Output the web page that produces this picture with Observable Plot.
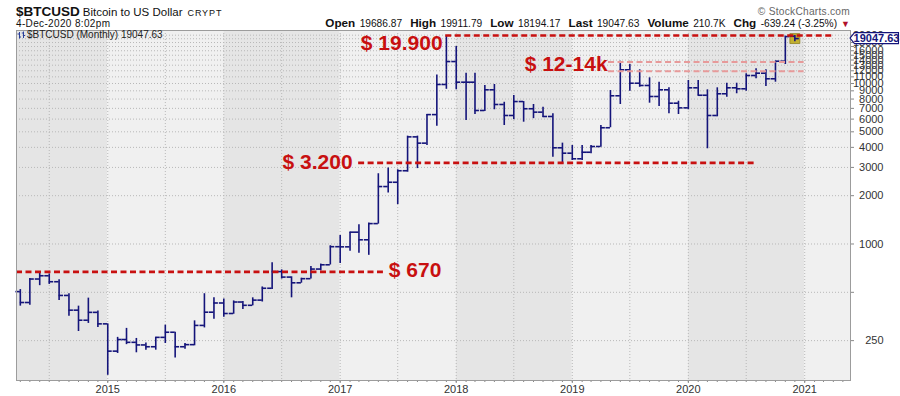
<!DOCTYPE html>
<html>
<head>
<meta charset="utf-8">
<script src="https://cdn.jsdelivr.net/npm/d3@7"></script>
<script src="https://cdn.jsdelivr.net/npm/@observablehq/plot@0.6"></script>
<style>
  html, body { margin: 0; padding: 0; background: #ffffff; }
  #chart { width: 900px; height: 396px; }
</style>
</head>
<body>
<div id="chart"></div>
<script>
// ---------- data (monthly bars, Apr 2014 .. Dec 2020) ----------
const firstMonth = "2014-04-01";
const open = [
  505, 432, 605, 634, 582, 478, 387, 335, 375,
  318, 215, 254, 244, 235, 229, 262, 282, 229, 236, 311, 376,
  429, 369, 435, 415, 447, 530, 673, 622, 573, 608, 698, 742,
  962, 960, 1185, 1062, 1340, 2280, 2425, 2860, 4650, 4250, 6400, 9860,
  13700, 10190, 10190, 6790, 9135, 7400, 6320, 7720, 6960, 6630, 6230, 3975,
  3680, 3395, 3730, 4050, 5300, 8385, 12170, 10040, 9720, 8300, 9135, 7540,
  7050, 9400, 8450, 6320, 8630, 9400, 9270, 11215, 11595, 10700, 13770, 19686.87
];
const high = [
  520, 610, 670, 650, 598, 490, 410, 460, 382,
  318, 262, 298, 258, 242, 262, 312, 282, 240, 332, 490, 462,
  455, 442, 438, 462, 540, 765, 690, 625, 612, 725, 750, 975,
  1130, 1185, 1317, 1350, 2740, 2970, 2900, 4700, 4700, 6400, 11300, 19700,
  17000, 11595, 11595, 9700, 9860, 7640, 8420, 7720, 7400, 7120, 6475, 4250,
  4110, 4110, 4110, 5475, 9040, 13770, 13135, 12170, 10850, 10190, 9400, 7755,
  10440, 10440, 9135, 9400, 10040, 10040, 11500, 12350, 12170, 13770, 19700, 19911.79
];
const low = [
  410, 415, 550, 560, 445, 355, 285, 320, 302,
  152, 208, 236, 210, 218, 218, 240, 195, 221, 232, 300, 340,
  350, 365, 391, 412, 435, 520, 605, 462, 570, 605, 680, 740,
  755, 900, 876, 850, 1330, 2075, 1760, 2800, 2950, 4110, 5420, 9200,
  9135, 5880, 6410, 6700, 6860, 5475, 5950, 5740, 6040, 6130, 3470, 3128,
  3315, 3315, 3650, 4010, 5300, 7400, 8950, 9480, 7540, 7190, 6475, 6410,
  6860, 8350, 3920, 6200, 8200, 8630, 8950, 10700, 9580, 10190, 13135, 18194.17
];
const close = [
  432, 605, 634, 582, 478, 387, 335, 375, 318,
  215, 254, 244, 235, 229, 262, 282, 229, 236, 311, 376, 429,
  369, 435, 415, 447, 530, 673, 622, 573, 608, 698, 742, 962,
  960, 1185, 1062, 1340, 2280, 2425, 2860, 4650, 4250, 6400, 9860, 13700,
  10190, 10190, 6790, 9135, 7400, 6320, 7720, 6960, 6630, 6230, 3975, 3680,
  3395, 3730, 4050, 5300, 8385, 12170, 10040, 9720, 8300, 9135, 7540, 7050,
  9400, 8450, 6320, 8630, 9400, 9270, 11215, 11595, 10700, 13770, 19600, 19047.63
];

// price levels drawn by the analyst
const levelValues = [19900, 13600, 11900, 3200, 670];
const levelStarts = ["2017-11-29", "2019-04-25", "2019-04-25", "2017-02-28", "2014-03-20"];
const levelEnds   = ["2021-03-30", "2020-12-30", "2020-12-30", "2020-07-31", "2017-05-17"];
const levelKinds  = ["main", "zone", "zone", "main", "main"];

// annotation labels
const annoTexts  = ["$ 19.900", "$ 12-14k", "$ 3.200", "$ 670"];
const annoDates  = ["2017-11-19", "2019-04-22", "2017-02-09", "2017-06-03"];
const annoLevels = [19900, 13600, 3200, 670];

// axis ticks
const yTickValues = [250, 1000, 2000, 3000, 4000, 5000, 6000, 7000, 8000, 9000,
  10000, 11000, 12000, 13000, 14000, 15000, 16000, 18000, 20000];
const yGridValues = [250, 500, 1000, 2000, 3000, 4000, 5000, 6000, 7000, 8000, 9000,
  10000, 11000, 12000, 13000, 14000, 15000, 16000, 17000, 18000, 19000, 20000];
const yearLabels = [2015, 2016, 2017, 2018, 2019, 2020, 2021];
const bandYears = [2014, 2015, 2016, 2017, 2018, 2019, 2020, 2021];

// header texts
const symbolText = "$BTCUSD";
const nameText = "Bitcoin to US Dollar";
const exchText = "CRYPT";
const stampText = "4-Dec-2020 8:02pm";
const statLabels = ["Open", "High", "Low", "Last", "Volume", "Chg"];
const statValues = ["19686.87", "19911.79", "18194.17", "19047.63", "210.7K", "-639.24 (-3.25%)"];
const creditText = "\u00A9 StockCharts.com";
const legendText = "$BTCUSD (Monthly) 19047.63";
const lastValue = 19047.63;

// ---------- build tables ----------
const utc = s => new Date(s + "T00:00:00Z");
const start = utc(firstMonth);
const bars = open.map((o, i) => ({
  date: d3.utcMonth.offset(start, i),
  open: o, high: high[i], low: low[i], close: close[i]
}));
const levels = levelValues.map((v, i) => ({
  value: v, start: utc(levelStarts[i]), end: utc(levelEnds[i]), kind: levelKinds[i]
}));
const annos = annoTexts.map((t, i) => ({ text: t, date: utc(annoDates[i]), value: annoLevels[i] }));

const xDomain = [utc("2014-03-20"), utc("2021-05-25")];
const yDomain = [141.1, 21390];
const bands = bandYears.map((y, i) => ({
  x1: new Date(Math.max(+xDomain[0], Date.UTC(y, 0, 1))),
  x2: new Date(Math.min(+xDomain[1], Date.UTC(y + 1, 0, 1))),
  fill: i % 2 === 0 ? "#e5e5e5" : "#f0f0f0"
}));
const halfYears = d3.utcMonth.every(6).range(xDomain[0], xDomain[1]);
const yearDates = yearLabels.map(y => new Date(Date.UTC(y, 0, 1)));

const FONT = '"Liberation Sans", Arial, sans-serif';
const NAVY = "#14147a";
const RED = "#c81010";
const PINK = "#e79a9a";

const mainLevels = levels.filter(d => d.kind === "main");
const zoneLevels = levels.filter(d => d.kind === "zone");
const last = bars[bars.length - 1];

// label offsets from their level line (px)
const annoStyle = [
  { anchor: "end", dy: 8 },
  { anchor: "end", dy: 2.5 },
  { anchor: "end", dy: -1 },
  { anchor: "start", dy: -2 }
];
const annoMarks = annos.map((a, i) => Plot.text([a], {
  x: "date", y: "value", text: "text", textAnchor: annoStyle[i].anchor, dy: annoStyle[i].dy,
  fill: RED, fontSize: 21, fontWeight: "bold", fontFamily: FONT
}));

const plot = Plot.plot({
  width: 900,
  height: 396,
  marginTop: 30,
  marginBottom: 16,
  marginLeft: 16,
  marginRight: 50,
  x: { type: "utc", domain: xDomain, label: null },
  y: { type: "log", domain: yDomain, label: null },
  style: { fontFamily: FONT, fontSize: "11px", color: "#333", background: "transparent" },
  marks: [
    Plot.rect(bands, { x1: "x1", x2: "x2", y1: () => yDomain[0], y2: () => yDomain[1], fill: "fill" }),
    Plot.gridY(yGridValues, { stroke: "#b8b8b8", strokeOpacity: 1, strokeDasharray: "1,2" }),
    Plot.gridX(halfYears, { stroke: "#b8b8b8", strokeOpacity: 1, strokeDasharray: "1,2" }),
    Plot.axisX({ ticks: "month", tickSize: 2, tickFormat: () => "", label: null, stroke: "#888" }),
    Plot.axisX(yearDates, { tickSize: 3, tickPadding: 2, tickFormat: d3.utcFormat("%Y"), label: null, fontSize: 11, stroke: "#888" }),
    Plot.axisY(yGridValues, { anchor: "right", tickSize: 3, tickFormat: () => "", label: null, stroke: "#888" }),
    Plot.text(yTickValues, { y: d => d, text: d => String(d), frameAnchor: "right", textAnchor: "end",
      dx: 33, fontSize: 11, fill: "#333", fontFamily: FONT }),
    // current bar marker
    Plot.dot([last], { x: "date", y: "close", symbol: "square", r: 5.6, fill: "#c2b030", stroke: "#8f8020", strokeWidth: 0.8 }),
    // OHLC bars
    Plot.ruleX(bars, { x: "date", y1: "low", y2: "high", stroke: NAVY, strokeWidth: 1.6 }),
    Plot.ruleY(bars, { y: "open", x1: d => d3.utcDay.offset(d.date, -14), x2: "date", stroke: NAVY, strokeWidth: 1.6 }),
    Plot.ruleY(bars, { y: "close", x1: "date", x2: d => d3.utcDay.offset(d.date, 14), stroke: NAVY, strokeWidth: 1.6 }),
    // levels
    Plot.ruleY(zoneLevels, { y: "value", x1: "start", x2: "end", stroke: PINK, strokeWidth: 2, strokeDasharray: "6,3.5" }),
    Plot.ruleY(mainLevels, { y: "value", x1: "start", x2: "end", stroke: RED, strokeWidth: 2.6, strokeDasharray: "6,3.5", clip: true }),
    ...annoMarks,
    Plot.frame({ stroke: "#9c9c9c" })
  ]
});

const svg = d3.select(plot);
const ys = plot.scale("y");
const g = svg.append("g").attr("font-family", FONT).attr("text-anchor", "start");

// title row
const t1 = g.append("text").attr("x", 16).attr("y", 16).attr("fill", "#111");
t1.append("tspan").attr("font-weight", "bold").attr("font-size", 13.5).text(symbolText);
t1.append("tspan").attr("dx", 3).attr("font-size", 11.5).text(nameText);
t1.append("tspan").attr("dx", 5).attr("font-size", 9).attr("letter-spacing", 0.9).text(exchText);

g.append("text").attr("x", 16).attr("y", 27).attr("font-size", 10).attr("letter-spacing", 0.35)
  .attr("fill", "#111").text(stampText);

g.append("text").attr("x", 850).attr("y", 15).attr("font-size", 10.2).attr("letter-spacing", 0.25)
  .attr("text-anchor", "end").attr("fill", "#666").text(creditText);

const st = g.append("text").attr("x", 850).attr("y", 27).attr("text-anchor", "end").attr("fill", "#111");
statLabels.forEach((lab, i) => {
  st.append("tspan").attr("dx", i === 0 ? 0 : 8).attr("font-weight", "bold").attr("font-size", 11.7).text(lab);
  st.append("tspan").attr("dx", 4.4).attr("font-size", 10.2).text(statValues[i]);
});
st.append("tspan").attr("dx", 4).attr("font-size", 9).attr("fill", "#b0102a").text("\u25BC");

// in-chart legend
const lg = g.append("g");
lg.append("path").attr("d", "M19.5,32 V38.5 M17.5,34 H19.5 M19.5,37 H21 M23.5,31.5 V38 M21.8,33 H23.5 M23.5,35.5 H25")
  .attr("stroke", "#2a3f9a").attr("stroke-width", 1).attr("fill", "none");
lg.append("text").attr("x", 27).attr("y", 38).attr("font-size", 10).attr("fill", "#222").text(legendText);

// last value tag on the price axis
const yl = ys.apply(lastValue);
g.append("path")
  .attr("d", `M850,${yl} L854.5,${yl - 5.5} H898.5 V${yl + 5.5} H854.5 Z`)
  .attr("fill", "#ffffff").attr("stroke", NAVY).attr("stroke-width", 1.1);
g.append("text").attr("x", 876.5).attr("y", yl + 4).attr("text-anchor", "middle")
  .attr("font-size", 11).attr("font-weight", "bold").attr("fill", NAVY).text(lastValue.toFixed(2));

document.getElementById("chart").appendChild(plot);
</script>
</body>
</html>
